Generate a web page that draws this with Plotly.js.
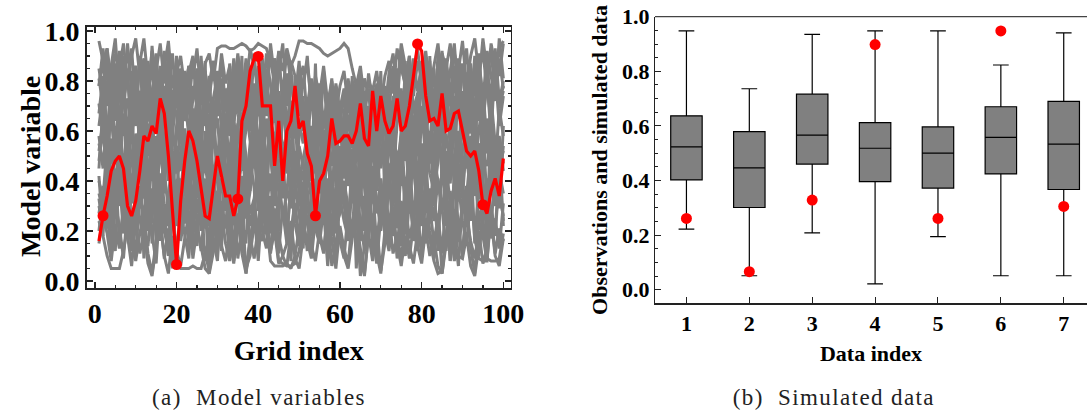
<!DOCTYPE html>
<html><head><meta charset="utf-8">
<script src="https://cdn.plot.ly/plotly-3.0.1.min.js"></script>
<style>html,body{margin:0;padding:0;background:#fff}#chart{width:1087px;height:410px}
.caption-text text, g.annotation.caption text{letter-spacing:1.4px}</style>
</head><body><div id="chart"></div>
<script>
// ---- Left panel: model variables (grid index 1..100) ----
const gridIndex = [1,2,3,4,5,6,7,8,9,10,11,12,13,14,15,16,17,18,19,20,21,22,23,24,25,26,27,28,29,30,31,32,33,34,35,36,37,38,39,40,41,42,43,44,45,46,47,48,49,50,51,52,53,54,55,56,57,58,59,60,61,62,63,64,65,66,67,68,69,70,71,72,73,74,75,76,77,78,79,80,81,82,83,84,85,86,87,88,89,90,91,92,93,94,95,96,97,98,99,100];

const gray01 = [.96,.88,.93,.80,.91,.85,.95,.78,.90,.97,.82,.89,.76,.92,.84,.95,.79,.88,.71,.83,.90,.77,.86,.81,.93,.74,.87,.91,.80,.93,.94,.94,.93,.93,.94,.95,.94,.92,.93,.95,.94,.93,.88,.79,.91,.84,.93,.86,.90,.96,.96,.95,.95,.94,.93,.91,.90,.91,.92,.93,.95,.93,.85,.78,.86,.72,.80,.76,.84,.70,.82,.88,.75,.93,.85,.79,.90,.74,.88,.81,.92,.77,.86,.95,.80,.89,.73,.91,.84,.96,.78,.90,.97,.83,.92,.76,.95,.86,.93,.96];
const gray02 = [.78,.93,.70,.86,.97,.74,.89,.81,.93,.69,.87,.97,.80,.73,.91,.68,.85,.96,.77,.88,.72,.84,.69,.88,.76,.83,.70,.79,.88,.74,.91,.79,.86,.70,.90,.82,.76,.93,.85,.78,.89,.72,.95,.81,.87,.75,.92,.79,.70,.85,.77,.90,.68,.82,.74,.86,.71,.80,.67,.78,.84,.70,.80,.76,.69,.81,.74,.78,.72,.79,.68,.83,.91,.77,.95,.86,.72,.84,.93,.78,.88,.70,.82,.74,.91,.85,.95,.76,.89,.80,.93,.71,.86,.79,.97,.84,.74,.91,.82,.95];
const gray03 = [.62,.75,.57,.83,.66,.91,.72,.60,.79,.86,.68,.55,.74,.87,.63,.78,.92,.70,.58,.76,.85,.64,.77,.58,.71,.90,.66,.56,.73,.82,.60,.77,.68,.89,.74,.57,.82,.67,.91,.70,.63,.81,.58,.76,.92,.69,.55,.80,.73,.88,.66,.58,.79,.71,.56,.84,.63,.75,.60,.69,.77,.61,.73,.55,.80,.66,.58,.71,.63,.76,.59,.70,.82,.64,.77,.57,.88,.68,.75,.61,.84,.72,.60,.91,.67,.78,.58,.86,.70,.63,.81,.66,.90,.74,.59,.85,.68,.93,.72,.80];
const gray04 = [.81,.70,.88,.64,.76,.84,.58,.73,.66,.86,.62,.80,.72,.57,.87,.69,.78,.60,.74,.66,.55,.77,.68,.61,.73,.80,.64,.71,.57,.76,.63,.72,.58,.83,.67,.75,.86,.60,.77,.70,.88,.66,.74,.82,.61,.79,.56,.72,.64,.81,.69,.60,.75,.55,.71,.62,.74,.57,.68,.61,.56,.66,.60,.73,.57,.64,.54,.70,.61,.67,.76,.60,.67,.85,.64,.77,.70,.57,.74,.82,.62,.86,.68,.76,.58,.83,.73,.64,.88,.60,.77,.85,.65,.88,.74,.79,.63,.87,.71,.78];
const gray05 = [.52,.64,.45,.71,.58,.49,.67,.40,.61,.73,.55,.43,.69,.60,.47,.74,.53,.66,.44,.58,.70,.48,.62,.41,.68,.55,.72,.46,.59,.65,.43,.57,.74,.50,.63,.44,.69,.56,.48,.72,.60,.45,.67,.53,.76,.47,.58,.70,.42,.63,.55,.71,.48,.62,.44,.68,.57,.73,.49,.61,.46,.66,.53,.75,.42,.59,.70,.50,.64,.45,.68,.56,.41,.63,.72,.48,.60,.53,.69,.44,.57,.74,.50,.65,.43,.70,.55,.62,.47,.76,.54,.67,.44,.60,.73,.51,.64,.45,.69,.58];
const gray06 = [.40,.33,.55,.47,.62,.36,.51,.44,.68,.38,.57,.45,.35,.60,.49,.31,.54,.66,.42,.37,.52,.61,.39,.48,.33,.58,.45,.67,.36,.50,.64,.41,.53,.30,.46,.59,.38,.55,.63,.43,.35,.50,.60,.42,.56,.33,.65,.47,.39,.54,.46,.37,.59,.51,.66,.40,.48,.34,.57,.44,.62,.38,.50,.45,.31,.56,.42,.61,.36,.53,.44,.65,.37,.52,.46,.58,.33,.49,.62,.40,.55,.43,.36,.61,.48,.52,.39,.64,.45,.33,.57,.41,.63,.36,.50,.46,.60,.38,.55,.47];
const gray07 = [.24,.18,.10,.05,.05,.05,.12,.22,.15,.08,.19,.27,.11,.03,.16,.25,.09,.21,.13,.06,.05,.05,.05,.06,.05,.05,.11,.04,.18,.26,.14,.08,.20,.12,.27,.17,.05,.10,.23,.15,.28,.19,.11,.24,.08,.07,.06,.06,.07,.12,.22,.16,.09,.25,.18,.11,.27,.06,.14,.21,.10,.05,.17,.24,.13,.03,.19,.08,.22,.04,.15,.26,.11,.18,.09,.23,.14,.07,.20,.12,.25,.16,.08,.03,.04,.19,.27,.13,.10,.09,.18,.06,.02,.14,.22,.09,.08,.08,.09,.19];
const gray08 = [.30,.22,.36,.15,.28,.41,.19,.33,.12,.26,.38,.21,.14,.32,.45,.18,.29,.10,.24,.35,.16,.27,.40,.13,.22,.34,.08,.19,.31,.12,.25,.38,.17,.07,.21,.33,.03,.16,.29,.41,.20,.13,.34,.26,.11,.30,.18,.39,.23,.14,.36,.25,.12,.31,.20,.42,.15,.27,.10,.33,.24,.17,.38,.29,.02,.14,.35,.21,.11,.30,.19,.40,.26,.13,.32,.22,.37,.16,.28,.10,.34,.20,.09,.27,.03,.18,.30,.12,.39,.24,.15,.33,.21,.10,.28,.36,.17,.25,.13,.31];
const gray09 = [.71,.58,.80,.64,.52,.77,.69,.85,.55,.73,.63,.79,.50,.68,.83,.59,.74,.48,.66,.81,.57,.72,.86,.61,.50,.75,.67,.82,.54,.70,.78,.62,.49,.73,.84,.58,.71,.63,.79,.51,.74,.85,.60,.67,.53,.80,.64,.72,.57,.76,.69,.50,.78,.61,.73,.55,.66,.81,.59,.70,.52,.72,.63,.80,.58,.68,.77,.54,.71,.62,.78,.57,.69,.83,.62,.74,.51,.66,.58,.79,.65,.54,.77,.59,.82,.68,.73,.57,.80,.66,.71,.59,.83,.64,.77,.55,.70,.84,.62,.74];
const gray10 = [.45,.70,.32,.85,.25,.60,.90,.38,.75,.20,.65,.88,.30,.55,.15,.72,.42,.93,.28,.62,.80,.35,.58,.18,.70,.47,.88,.22,.66,.40,.12,.55,.78,.33,.62,.90,.26,.50,.74,.37,.85,.28,.68,.44,.20,.76,.52,.31,.82,.46,.25,.63,.40,.87,.35,.57,.18,.71,.48,.30,.69,.43,.82,.27,.60,.38,.15,.66,.50,.84,.32,.58,.74,.21,.45,.88,.36,.63,.26,.70,.48,.90,.30,.56,.78,.22,.61,.40,.85,.33,.67,.24,.52,.80,.41,.15,.73,.55,.29,.62];
const gray11 = [.20,.34,.27,.12,.31,.22,.09,.29,.18,.36,.25,.15,.31,.20,.07,.33,.24,.14,.30,.11,.28,.19,.09,.35,.23,.12,.30,.03,.21,.33,.16,.26,.11,.30,.09,.22,.35,.14,.27,.08,.32,.21,.13,.29,.18,.10,.06,.20,.31,.17,.27,.12,.34,.21,.15,.29,.06,.23,.32,.16,.09,.28,.19,.33,.25,.12,.30,.18,.07,.26,.34,.14,.29,.09,.21,.31,.17,.25,.12,.35,.20,.30,.15,.26,.11,.33,.08,.22,.16,.28,.31,.13,.03,.24,.18,.08,.27,.11,.21,.16];
const gray12 = [.55,.47,.60,.39,.52,.63,.44,.58,.36,.50,.61,.42,.54,.65,.38,.49,.57,.40,.62,.46,.35,.53,.44,.59,.48,.37,.56,.62,.41,.52,.47,.60,.38,.54,.43,.65,.50,.36,.58,.45,.53,.39,.61,.48,.57,.42,.35,.55,.64,.40,.49,.58,.43,.37,.60,.51,.45,.62,.38,.54,.41,.56,.47,.63,.36,.52,.44,.59,.48,.57,.62,.40,.53,.46,.58,.35,.49,.64,.42,.55,.38,.60,.47,.52,.63,.44,.56,.39,.53,.61,.45,.58,.37,.55,.49,.62,.41,.57,.46,.52];
const gray13 = [.85,.74,.93,.66,.80,.89,.70,.95,.77,.62,.90,.81,.67,.94,.73,.86,.64,.78,.91,.69,.76,.65,.83,.90,.68,.79,.62,.75,.86,.72,.88,.70,.81,.64,.77,.72,.89,.80,.66,.86,.72,.91,.77,.65,.84,.95,.70,.88,.82,.66,.80,.87,.72,.66,.79,.63,.74,.69,.77,.64,.73,.81,.66,.70,.78,.64,.83,.71,.67,.75,.63,.77,.86,.70,.93,.81,.67,.89,.76,.85,.71,.88,.66,.79,.92,.70,.84,.95,.73,.87,.65,.82,.74,.91,.68,.87,.93,.72,.97,.81];
const gray14 = [.35,.28,.44,.21,.38,.30,.47,.25,.33,.42,.29,.48,.20,.37,.26,.43,.31,.22,.46,.34,.41,.23,.32,.47,.27,.39,.21,.44,.30,.36,.24,.46,.29,.40,.19,.35,.42,.27,.33,.48,.31,.38,.22,.45,.36,.28,.15,.41,.26,.37,.44,.30,.21,.38,.47,.25,.40,.33,.19,.43,.36,.22,.45,.28,.39,.20,.34,.46,.27,.41,.23,.37,.30,.44,.17,.32,.48,.26,.39,.22,.42,.29,.35,.19,.45,.33,.24,.40,.18,.31,.38,.26,.46,.22,.34,.41,.28,.20,.44,.35];
const gray15 = [.15,.26,.19,.08,.22,.13,.30,.17,.06,.24,.11,.20,.07,.02,.14,.23,.10,.03,.18,.12,.06,.17,.27,.09,.21,.14,.05,.03,.12,.20,.28,.15,.08,.19,.25,.11,.03,.18,.09,.22,.16,.27,.12,.20,.07,.10,.15,.24,.09,.05,.18,.26,.14,.08,.20,.12,.28,.17,.05,.22,.13,.07,.24,.16,.10,.02,.19,.27,.11,.03,.20,.12,.25,.15,.06,.18,.09,.23,.14,.07,.21,.10,.17,.06,.03,.15,.24,.08,.19,.12,.26,.16,.09,.20,.07,.13,.25,.10,.06,.17];
const gray16 = [.67,.82,.59,.74,.87,.63,.78,.55,.84,.70,.76,.60,.88,.65,.79,.53,.71,.85,.62,.90,.68,.80,.56,.73,.85,.61,.77,.69,.58,.84,.73,.55,.87,.64,.71,.80,.60,.86,.69,.75,.58,.77,.66,.89,.62,.73,.83,.57,.68,.80,.86,.64,.75,.58,.70,.82,.61,.67,.78,.57,.66,.80,.59,.72,.84,.55,.69,.62,.79,.58,.74,.63,.56,.82,.67,.71,.80,.60,.73,.88,.59,.76,.85,.63,.70,.81,.57,.74,.66,.86,.72,.87,.61,.78,.64,.80,.58,.88,.69,.76];
const gray17 = [.42,.18,.55,.30,.12,.47,.25,.60,.14,.38,.52,.09,.36,.23,.58,.16,.44,.28,.05,.40,.27,.50,.13,.35,.57,.20,.41,.06,.33,.54,.19,.45,.30,.08,.52,.24,.15,.49,.37,.11,.56,.29,.43,.17,.34,.51,.22,.08,.40,.27,.13,.47,.32,.55,.21,.38,.09,.44,.26,.50,.31,.16,.53,.05,.37,.24,.46,.12,.58,.29,.43,.20,.35,.52,.14,.41,.27,.55,.18,.36,.50,.23,.39,.12,.47,.30,.08,.44,.21,.10,.34,.52,.15,.40,.25,.08,.45,.30,.55,.22];
const gray18 = [.58,.45,.66,.37,.53,.70,.42,.61,.49,.34,.72,.51,.39,.64,.46,.57,.35,.68,.52,.43,.63,.38,.55,.69,.44,.33,.60,.48,.71,.40,.56,.67,.41,.59,.36,.48,.62,.73,.45,.54,.39,.65,.50,.34,.61,.55,.43,.69,.37,.58,.74,.41,.52,.66,.38,.47,.63,.35,.55,.68,.44,.59,.36,.50,.67,.42,.54,.31,.62,.48,.53,.70,.45,.38,.61,.50,.66,.41,.57,.35,.64,.47,.56,.72,.40,.59,.46,.67,.37,.53,.60,.43,.71,.48,.39,.65,.52,.36,.58,.44];
const gray19 = [.78,.88,.70,.84,.64,.92,.73,.81,.62,.77,.86,.66,.82,.74,.59,.79,.90,.71,.65,.83,.75,.68,.61,.78,.70,.58,.84,.72,.88,.66,.81,.71,.63,.76,.91,.68,.73,.79,.60,.83,.69,.77,.62,.89,.71,.65,.80,.85,.63,.74,.60,.70,.81,.65,.76,.61,.72,.58,.79,.68,.73,.62,.71,.57,.68,.75,.60,.66,.72,.59,.65,.74,.61,.82,.86,.78,.90,.69,.62,.80,.72,.83,.64,.76,.67,.87,.70,.80,.65,.85,.76,.68,.87,.79,.71,.92,.81,.72,.89,.77];
const gray20 = [.27,.38,.21,.33,.45,.16,.29,.40,.23,.10,.34,.26,.43,.15,.31,.39,.20,.12,.36,.28,.19,.41,.25,.30,.14,.37,.24,.46,.17,.08,.32,.21,.44,.26,.35,.13,.40,.22,.31,.19,.43,.24,.08,.06,.06,.06,.07,.05,.10,.21,.29,.37,.18,.33,.25,.41,.13,.36,.22,.27,.40,.30,.19,.45,.16,.34,.23,.38,.14,.31,.26,.42,.18,.35,.28,.10,.33,.21,.44,.30,.15,.37,.24,.41,.29,.12,.36,.20,.06,.33,.22,.40,.17,.09,.08,.08,.30,.18,.42,.24];
const gray21 = [.48,.62,.35,.57,.29,.66,.43,.52,.31,.59,.45,.33,.63,.40,.55,.27,.50,.61,.37,.54,.44,.58,.30,.51,.64,.39,.47,.34,.60,.46,.53,.28,.49,.67,.41,.56,.32,.45,.61,.38,.63,.47,.54,.30,.49,.41,.60,.36,.52,.44,.35,.55,.62,.43,.50,.29,.58,.46,.64,.39,.57,.48,.31,.56,.44,.61,.37,.53,.40,.65,.46,.33,.59,.49,.38,.63,.42,.55,.30,.51,.44,.58,.34,.48,.62,.37,.53,.45,.60,.41,.50,.35,.57,.43,.61,.32,.49,.58,.38,.54];
const gray22 = [.33,.21,.46,.38,.25,.52,.34,.17,.43,.29,.48,.36,.24,.51,.30,.40,.19,.35,.47,.22,.37,.29,.48,.21,.40,.53,.26,.33,.45,.18,.41,.34,.22,.49,.30,.42,.25,.36,.53,.28,.46,.33,.19,.38,.44,.24,.37,.29,.51,.35,.21,.42,.35,.28,.50,.33,.41,.18,.37,.46,.29,.52,.40,.22,.35,.47,.26,.43,.33,.20,.39,.47,.25,.34,.52,.27,.38,.45,.31,.49,.36,.24,.50,.40,.27,.44,.32,.21,.47,.38,.28,.45,.34,.51,.30,.39,.22,.43,.35,.26];

const grayLines = [gray01,gray02,gray03,gray04,gray05,gray06,gray07,gray08,gray09,gray10,gray11,gray12,gray13,gray14,gray15,gray16,gray17,gray18,gray19,gray20,gray21,gray22];

// highlighted (observed) model variable
const redLine = [.16,.261,.34,.44,.48,.50,.45,.30,.26,.32,.44,.58,.56,.62,.59,.73,.67,.50,.28,.066,.32,.48,.60,.56,.48,.37,.26,.25,.38,.50,.42,.34,.34,.26,.328,.64,.70,.84,.89,.898,.70,.70,.70,.46,.64,.40,.60,.64,.78,.61,.64,.51,.46,.261,.40,.43,.50,.65,.55,.56,.58,.58,.55,.60,.71,.57,.54,.76,.60,.74,.64,.59,.62,.73,.60,.62,.70,.82,.948,.92,.74,.64,.65,.62,.75,.60,.61,.67,.68,.60,.52,.50,.52,.44,.305,.27,.36,.41,.34,.49];

// observation locations and values
const obsGridIndex = [2,20,35,40,54,79,95];
const obsValue = [.261,.066,.328,.898,.261,.948,.305];

// ---- Right panel: simulated data box plots ----
const dataIndex = [1,2,3,4,5,6,7];
const boxLower  = [.222,.051,.208,.021,.194,.051,.051];
const boxQ1     = [.402,.301,.460,.396,.372,.424,.367];
const boxMedian = [.523,.446,.566,.518,.500,.558,.533];
const boxQ3     = [.637,.579,.716,.612,.596,.670,.690];
const boxUpper  = [.948,.736,.935,.948,.948,.823,.941];

const SERIF = 'Liberation Serif, Times New Roman, serif';
function bold(size){ return {family:SERIF, size:size, color:'#000', weight:'bold'}; }

const traces = [];
grayLines.forEach(function(g){
  traces.push({type:'scatter', mode:'lines', x:gridIndex, y:g, xaxis:'x', yaxis:'y',
    line:{color:'#808080', width:3}, hoverinfo:'skip', showlegend:false});
});
traces.push({type:'scatter', mode:'lines', x:gridIndex, y:redLine, xaxis:'x', yaxis:'y',
  line:{color:'#ff0000', width:3.2}, showlegend:false});
traces.push({type:'scatter', mode:'markers', x:obsGridIndex, y:obsValue, xaxis:'x', yaxis:'y',
  marker:{color:'#ff0000', size:11}, showlegend:false});
traces.push({type:'box', x:dataIndex, q1:boxQ1, median:boxMedian, q3:boxQ3,
  lowerfence:boxLower, upperfence:boxUpper, xaxis:'x2', yaxis:'y2', width:0.5, whiskerwidth:0.5,
  fillcolor:'#808080', line:{color:'#000', width:1.2}, boxpoints:false, showlegend:false});
traces.push({type:'scatter', mode:'markers', x:dataIndex, y:obsValue, xaxis:'x2', yaxis:'y2',
  marker:{color:'#ff0000', size:11}, showlegend:false});

const W = 1087, H = 410;
const layout = {
  width:W, height:H, margin:{l:0,r:0,t:0,b:0}, paper_bgcolor:'#fff', plot_bgcolor:'rgba(0,0,0,0)',
  showlegend:false,
  xaxis:{domain:[86.7/W, 510.7/W], range:[-2,101.8], anchor:'y', dtick:20, tick0:0,
    ticks:'inside', ticklen:6, tickwidth:1.5, tickcolor:'#222', showline:true, linecolor:'#222', linewidth:1.5,
    mirror:'ticks', showgrid:false, zeroline:false,
    minor:{dtick:5, tick0:0, ticks:'inside', ticklen:3, tickwidth:1.2, tickcolor:'#222'},
    tickfont:bold(28),
    title:{text:'Grid index', font:bold(28), standoff:12}},
  yaxis:{domain:[(H-288)/H, (H-26.7)/H], range:[-0.028,1.017], anchor:'x', dtick:0.2, tick0:0, tickformat:'.1f',
    ticks:'inside', ticklen:6, tickwidth:1.5, tickcolor:'#222', showline:true, linecolor:'#222', linewidth:1.5,
    mirror:'ticks', showgrid:false, zeroline:false,
    minor:{dtick:0.05, tick0:0, ticks:'inside', ticklen:3, tickwidth:1.2, tickcolor:'#222'},
    tickfont:bold(28)},
  xaxis2:{domain:[655/W, 1], range:[0.5,7.37], anchor:'y2', dtick:1, tick0:1,
    ticks:'inside', ticklen:6, tickwidth:1, tickcolor:'#222', showline:true, linecolor:'#222', linewidth:1.2,
    showgrid:false, zeroline:false,
    tickfont:bold(22),
    title:{text:'Data index', font:bold(22), standoff:10}},
  yaxis2:{domain:[(H-303.3)/H, (H-16.7)/H], range:[-0.05,1.0], anchor:'x2', dtick:0.2, tick0:0, tickformat:'.1f',
    ticks:'inside', ticklen:6, tickwidth:1, tickcolor:'#222', showline:true, linecolor:'#222', linewidth:1.2,
    showgrid:false, zeroline:false,
    minor:{dtick:0.05, tick0:0, ticks:'inside', ticklen:3, tickwidth:1, tickcolor:'#222'},
    tickfont:bold(22),
    title:{text:'Observations and simulated data', font:bold(22), standoff:8}},
  shapes:[{type:'line', xref:'paper', yref:'paper', x0:655/W, x1:1, y0:(H-16.7)/H, y1:(H-16.7)/H,
    line:{color:'#444', width:1.2}}],
  annotations:[
    {text:'Model variable', xref:'paper', yref:'paper', x:30/W, y:(H-167)/H, xanchor:'center', yanchor:'middle',
     textangle:-90, showarrow:false, font:bold(28)},
    {text:'(a)  Model variables', xref:'paper', yref:'paper', x:259/W, y:(H-397)/H, xanchor:'center', yanchor:'middle',
     showarrow:false, font:{family:SERIF, size:23, color:'#222'}, name:'caption'},
    {text:'(b)  Simulated data', xref:'paper', yref:'paper', x:834/W, y:(H-397)/H, xanchor:'center', yanchor:'middle',
     showarrow:false, font:{family:SERIF, size:23, color:'#222'}, name:'caption'}
  ]
};
Plotly.newPlot('chart', traces, layout, {displayModeBar:false, staticPlot:true}).then(function(){
  // widen caption tracking slightly (Computer Modern look)
  document.querySelectorAll('g.annotation text.annotation-text').forEach(function(t){
    if (t.textContent.charAt(0) === '(') t.style.letterSpacing = '1.4px';
  });
});
</script>
</body></html>
